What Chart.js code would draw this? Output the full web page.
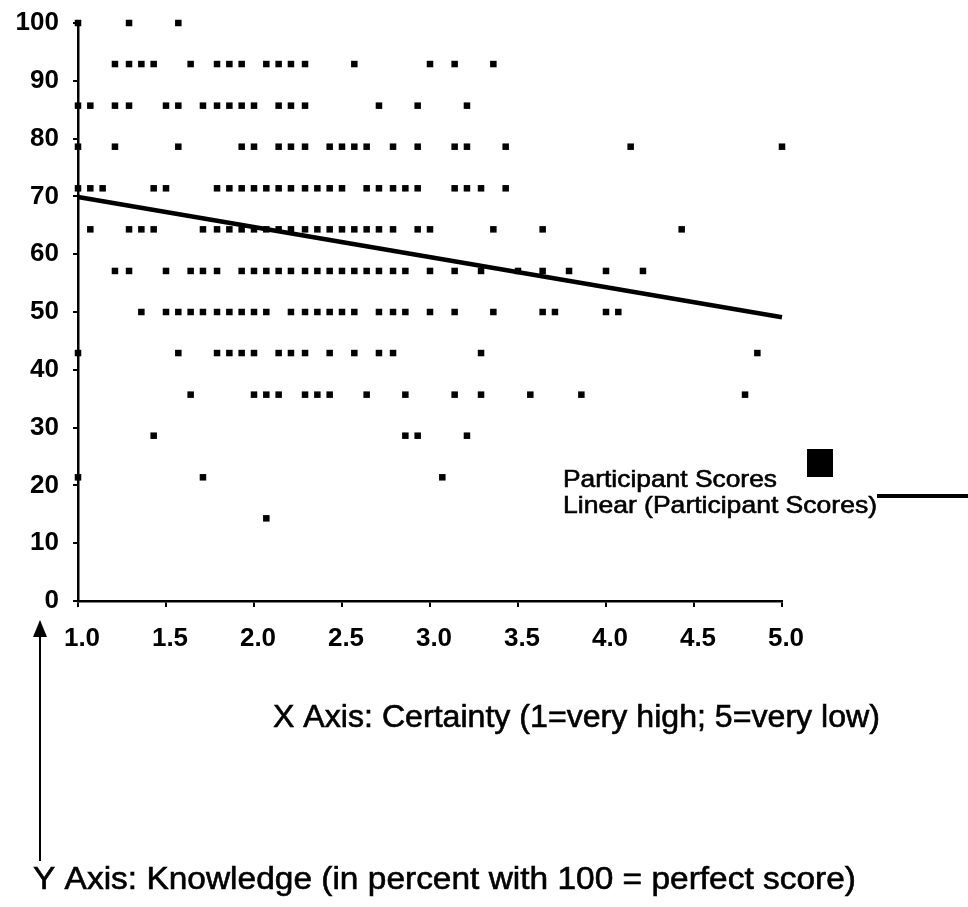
<!DOCTYPE html>
<html>
<head>
<meta charset="utf-8">
<title>Knowledge vs Certainty</title>
<script src="https://cdn.jsdelivr.net/npm/chart.js@4.4.1/dist/chart.umd.min.js"></script>
<style>
  html, body { margin: 0; padding: 0; background: #fff; }
  #wrap { width: 968px; height: 907px; }
</style>
</head>
<body>
<div id="wrap"><canvas id="chart" width="968" height="907"></canvas></div>
<script>
// Knowledge score levels (percent of 14 items) and the certainty values found at each level
const knowledgeLevels = [100, 92.9, 85.7, 78.6, 71.4, 64.3, 57.1, 50.0, 42.9, 35.7, 28.6, 21.4, 14.3];

const certaintyAt100 = [1.00, 1.29, 1.57];
const certaintyAt93 = [1.21, 1.29, 1.36, 1.43, 1.64, 1.79, 1.86, 1.93, 2.07, 2.14, 2.21, 2.29, 2.57, 3.00, 3.14, 3.36];
const certaintyAt86 = [1.00, 1.07, 1.21, 1.29, 1.50, 1.57, 1.71, 1.79, 1.86, 1.93, 2.00, 2.14, 2.21, 2.29, 2.71, 2.93, 3.21];
const certaintyAt79 = [1.00, 1.21, 1.57, 1.93, 2.00, 2.14, 2.21, 2.29, 2.43, 2.50, 2.57, 2.64, 2.79, 2.93, 3.14, 3.21, 3.43, 4.14, 5.00];
const certaintyAt71 = [1.00, 1.07, 1.14, 1.43, 1.50, 1.79, 1.86, 1.93, 2.00, 2.07, 2.14, 2.21, 2.29, 2.36, 2.43, 2.50, 2.64, 2.71, 2.79, 2.86, 2.93, 3.14, 3.21, 3.29, 3.43];
const certaintyAt64 = [1.07, 1.29, 1.36, 1.43, 1.71, 1.79, 1.86, 1.93, 2.00, 2.07, 2.14, 2.21, 2.29, 2.36, 2.43, 2.50, 2.57, 2.64, 2.71, 2.79, 2.93, 3.00, 3.36, 3.64, 4.43];
const certaintyAt57 = [1.21, 1.29, 1.50, 1.64, 1.71, 1.79, 1.93, 2.00, 2.07, 2.14, 2.21, 2.29, 2.36, 2.43, 2.50, 2.57, 2.64, 2.71, 2.79, 2.86, 3.00, 3.14, 3.29, 3.50, 3.64, 3.79, 4.00, 4.21];
const certaintyAt50 = [1.36, 1.50, 1.57, 1.64, 1.71, 1.79, 1.86, 1.93, 2.00, 2.07, 2.21, 2.29, 2.36, 2.43, 2.50, 2.57, 2.71, 2.79, 2.86, 3.00, 3.14, 3.36, 3.64, 3.71, 4.00, 4.07];
const certaintyAt43 = [1.00, 1.57, 1.79, 1.86, 1.93, 2.00, 2.14, 2.21, 2.29, 2.43, 2.57, 2.71, 2.79, 3.29, 4.86];
const certaintyAt36 = [1.64, 2.00, 2.07, 2.14, 2.29, 2.36, 2.43, 2.64, 2.86, 3.14, 3.29, 3.57, 3.86, 4.79];
const certaintyAt29 = [1.43, 2.86, 2.93, 3.21];
const certaintyAt21 = [1.00, 1.71, 3.07];
const certaintyAt14 = [2.07];

const certaintyRows = [certaintyAt100, certaintyAt93, certaintyAt86, certaintyAt79, certaintyAt71, certaintyAt64,
  certaintyAt57, certaintyAt50, certaintyAt43, certaintyAt36, certaintyAt29, certaintyAt21, certaintyAt14];

// Linear trend line end points
const trendX = [1, 5];
const trendY = [69.9, 49.1];

const xTicks = [1.0, 1.5, 2.0, 2.5, 3.0, 3.5, 4.0, 4.5, 5.0];

const seriesLabel = 'Participant Scores';
const trendLabel = 'Linear (Participant Scores)';
const xTitle = 'X Axis: Certainty (1=very high; 5=very low)';
const yTitle = 'Y Axis: Knowledge (in percent with 100 = perfect score)';

const FONT = "'Liberation Sans', Arial, sans-serif";

const scores = [];
certaintyRows.forEach((row, i) => {
  row.forEach(c => scores.push({ x: c, y: knowledgeLevels[i] }));
});

// the scanned original uses a wider face, so stretch text to the width it had
function wideText(ctx, text, x, y, width) {
  const w = ctx.measureText(text).width;
  const k = width / w;
  ctx.save();
  ctx.translate(x, y);
  ctx.scale(k, 1);
  ctx.fillText(text, 0, 0);
  ctx.lineWidth = 0.6;
  ctx.strokeText(text, 0, 0);
  ctx.restore();
}

// Titles, arrow and the legend sit outside the plot, drawn after the chart
const decorations = {
  id: 'decorations',
  afterDraw(chart) {
    const ctx = chart.ctx;
    ctx.save();
    ctx.fillStyle = '#000';
    ctx.strokeStyle = '#000';
    ctx.textAlign = 'left';

    // legend
    ctx.font = '24px ' + FONT;
    ctx.textBaseline = 'alphabetic';
    wideText(ctx, seriesLabel, 563, 487, 214);
    wideText(ctx, trendLabel, 563, 513, 314);
    ctx.fillRect(807, 449, 26, 28);
    ctx.lineWidth = 4;
    ctx.beginPath();
    ctx.moveTo(877, 496);
    ctx.lineTo(968, 496);
    ctx.stroke();

    // axis captions
    ctx.font = '31px ' + FONT;
    ctx.textBaseline = 'middle';
    wideText(ctx, xTitle, 273, 718, 607);
    wideText(ctx, yTitle, 33, 880, 823);

    // arrow pointing up at the y axis
    ctx.lineWidth = 2;
    ctx.beginPath();
    ctx.moveTo(40, 634);
    ctx.lineTo(40, 861);
    ctx.stroke();
    ctx.beginPath();
    ctx.moveTo(40, 620);
    ctx.lineTo(33, 637);
    ctx.lineTo(47, 637);
    ctx.closePath();
    ctx.fill();
    ctx.restore();
  }
};

new Chart(document.getElementById('chart'), {
  data: {
    datasets: [
      {
        type: 'scatter',
        label: seriesLabel,
        data: scores,
        backgroundColor: '#000',
        borderColor: '#000',
        borderWidth: 0,
        pointStyle: 'rect',
        pointRadius: 4.6,
        clip: false
      },
      {
        type: 'line',
        label: trendLabel,
        data: trendX.map((x, i) => ({ x: x, y: trendY[i] })),
        borderColor: '#000',
        borderWidth: 4.5,
        pointRadius: 0,
        fill: false,
        clip: false
      }
    ]
  },
  options: {
    responsive: false,
    animation: false,
    devicePixelRatio: 1,
    layout: { padding: { left: 0, top: 23, right: 186, bottom: 246 } },
    plugins: {
      legend: { display: false },
      tooltip: { enabled: false }
    },
    scales: {
      x: {
        type: 'linear',
        position: 'bottom',
        min: 1,
        max: 5,
        afterBuildTicks: s => { s.ticks = xTicks.map(v => ({ value: v })); },
        afterFit: s => { s.height = 60; s.paddingLeft = 0; s.paddingRight = 0; },
        ticks: {
          color: '#000',
          padding: 16,
          labelOffset: 4,
          maxRotation: 0,
          autoSkip: false,
          callback: v => Number(v).toFixed(1),
          font: { size: 26, weight: 'bold', family: FONT }
        },
        grid: { drawOnChartArea: false, drawTicks: true, tickLength: 6, color: '#000', lineWidth: 2 },
        border: { display: true, color: '#000', width: 2.5 }
      },
      y: {
        type: 'linear',
        min: 0,
        max: 100,
        afterFit: s => { s.width = 78; s.paddingTop = 0; s.paddingBottom = 0; },
        ticks: {
          color: '#000',
          stepSize: 10,
          padding: 14,
          font: { size: 26, weight: 'bold', family: FONT }
        },
        grid: { drawOnChartArea: false, drawTicks: true, tickLength: 5, color: '#000', lineWidth: 2 },
        border: { display: true, color: '#000', width: 2.5 }
      }
    }
  },
  plugins: [decorations]
});
</script>
</body>
</html>
